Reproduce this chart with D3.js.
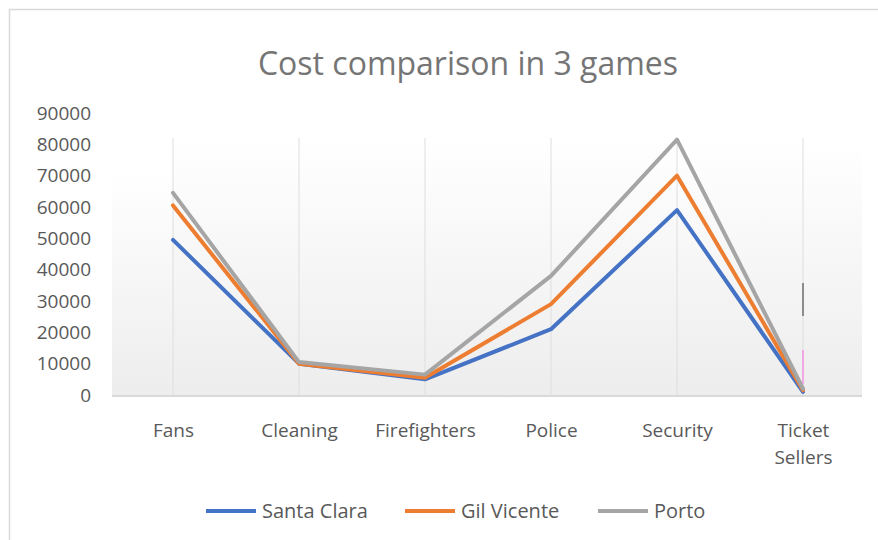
<!DOCTYPE html>
<html><head><meta charset="utf-8">
<script src="https://cdn.jsdelivr.net/npm/d3@7"></script>
<style>body{margin:0;background:#fff;} text{font-family:"Open Sans",sans-serif;}</style>
</head><body>
<svg id="c" width="878" height="540"></svg>
<script>
const title = "Cost comparison in 3 games";
const categories = ["Fans","Cleaning","Firefighters","Police","Security","Ticket Sellers"];
const seriesNames = ["Santa Clara","Gil Vicente","Porto"];
const santaClara = [49500,10000,5000,21000,59000,1000];
const gilVicente = [60500,10000,5500,29000,70000,1500];
const porto = [64500,10500,6500,38000,81500,2000];
const yTicks = [0,10000,20000,30000,40000,50000,60000,70000,80000,90000];
const colors = ["#4472C4","#ED7D31","#A5A5A5"];

const svg = d3.select("#c");
const x = d3.scalePoint().domain(categories).range([173, 803]);
const y = d3.scaleLinear().domain([0, 90000]).range([395, 113]);

// frame
svg.append("path").attr("d", "M9.5,540 L9.5,9.5 L878,9.5").attr("fill","none").attr("stroke","#d9d9d9").attr("stroke-width",1.5);

// title
svg.append("text").attr("x", 468).attr("y", 75).attr("text-anchor","middle")
  .attr("font-size", 32).attr("fill","#757575").text(title);

// background gradient
const defs = svg.append("defs");
const g = defs.append("linearGradient").attr("id","bg").attr("x1",0).attr("y1",0).attr("x2",0).attr("y2",1);
g.append("stop").attr("offset","0%").attr("stop-color","#ffffff");
g.append("stop").attr("offset","100%").attr("stop-color","#ededed");
svg.append("rect").attr("x",112).attr("y",172).attr("width",61).attr("height",395-172).attr("fill","url(#bg)");
svg.append("rect").attr("x",173).attr("y",138).attr("width",630).attr("height",395-138).attr("fill","url(#bg)");
svg.append("rect").attr("x",803).attr("y",142).attr("width",59).attr("height",395-142).attr("fill","url(#bg)");

// vertical gridlines at categories
svg.append("g").selectAll("line").data(categories).join("line")
  .attr("x1", d=>x(d)).attr("x2", d=>x(d)).attr("y1",138).attr("y2",395)
  .attr("stroke","#dedede").attr("stroke-width",1);

// small edge marks seen at right of plot area
svg.append("rect").attr("x",802).attr("y",283).attr("width",2).attr("height",33).attr("fill","#8c8c8c");
svg.append("rect").attr("x",802).attr("y",350).attr("width",2).attr("height",34).attr("fill","#f2a6e6");

// x axis baseline
svg.append("line").attr("x1",112).attr("x2",862).attr("y1",y(0)+1).attr("y2",y(0)+1)
  .attr("stroke","#d9d9d9").attr("stroke-width",2);

// y axis labels
const yAxis = d3.axisLeft(y).tickValues(yTicks).tickSize(0).tickPadding(0).tickFormat(d3.format("d"));
const ya = svg.append("g").attr("transform","translate(91,0)").call(yAxis);
ya.select(".domain").remove();
ya.selectAll("text").attr("font-size",19).attr("fill","#595959").attr("font-family","Open Sans, sans-serif");

// x axis labels
const xAxis = d3.axisBottom(x).tickSize(0).tickPadding(0);
const xa = svg.append("g").attr("transform","translate(0,423)").call(xAxis);
xa.select(".domain").remove();
xa.selectAll("text").attr("font-size",19).attr("fill","#595959").attr("font-family","Open Sans, sans-serif")
  .each(function(d){
    const words = d.split(" ");
    if (words.length > 1) {
      const t = d3.select(this); t.text(null);
      words.forEach((w,i)=>t.append("tspan").attr("x",0).attr("dy", i===0 ? "0.71em" : "1.45em").text(w));
      t.attr("dy", null);
    }
  });

// lines
const data = [santaClara, gilVicente, porto];
const line = d3.line().x((d,i)=>x(categories[i])).y(d=>y(d));
svg.append("g").selectAll("path").data(data).join("path")
  .attr("d", line).attr("fill","none").attr("stroke",(d,i)=>colors[i])
  .attr("stroke-width",4).attr("stroke-linejoin","round").attr("stroke-linecap","round");

// legend
const legendX = [206, 405, 598];
const lg = svg.append("g");
seriesNames.forEach((n,i)=>{
  lg.append("line").attr("x1",legendX[i]).attr("x2",legendX[i]+50).attr("y1",511).attr("y2",511)
    .attr("stroke",colors[i]).attr("stroke-width",4);
  lg.append("text").attr("x",legendX[i]+56).attr("y",518).attr("font-size",20).attr("fill","#595959").text(n);
});
</script>
</body></html>
